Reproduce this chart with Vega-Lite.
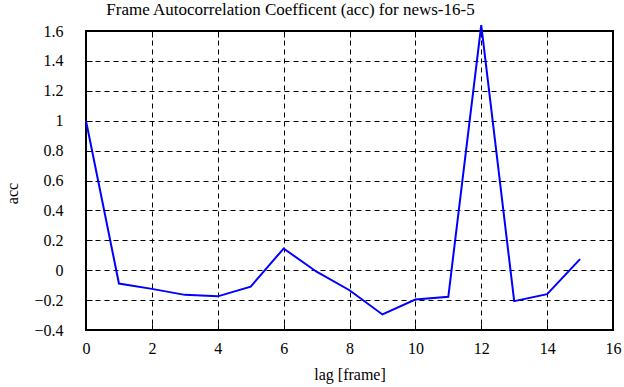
{
  "$schema": "https://vega.github.io/schema/vega-lite/v6.json",
  "width": 527,
  "height": 299,
  "autosize": {"type": "none"},
  "padding": {"left": 86, "top": 31, "right": 11, "bottom": 57},
  "background": "white",
  "title": {
    "text": "Frame Autocorrelation Coefficent (acc) for news-16-5",
    "font": "Liberation Serif",
    "fontSize": 17,
    "fontWeight": "normal",
    "color": "black",
    "anchor": "middle",
    "frame": "group",
    "dx": -59,
    "offset": 2
  },
  "config": {
    "view": {"stroke": "black", "strokeWidth": 2},
    "axis": {
      "labelFont": "Liberation Serif",
      "labelFontSize": 16,
      "labelColor": "black",
      "titleFont": "Liberation Serif",
      "titleFontSize": 16,
      "titleFontWeight": "normal",
      "titleColor": "black",
      "domain": false,
      "tickColor": "black",
      "tickSize": -6,
      "tickWidth": 1,
      "gridColor": "black",
      "gridDash": [5, 4],
      "gridOpacity": 1,
      "gridWidth": 1
    }
  },
  "data": {
    "values": [
      {"lag": 0, "acc": 1.0},
      {"lag": 1, "acc": -0.089},
      {"lag": 2, "acc": -0.125},
      {"lag": 3, "acc": -0.165},
      {"lag": 4, "acc": -0.175},
      {"lag": 5, "acc": -0.11},
      {"lag": 6, "acc": 0.145},
      {"lag": 7, "acc": -0.01},
      {"lag": 8, "acc": -0.134},
      {"lag": 9, "acc": -0.296},
      {"lag": 10, "acc": -0.196},
      {"lag": 11, "acc": -0.178},
      {"lag": 12, "acc": 1.64},
      {"lag": 13, "acc": -0.207},
      {"lag": 14, "acc": -0.16},
      {"lag": 15, "acc": 0.074}
    ]
  },
  "layer": [
    {
      "mark": {"type": "line", "color": "#0000ff", "strokeWidth": 2, "clip": false},
      "encoding": {
        "x": {
          "field": "lag", "type": "quantitative",
          "scale": {"domain": [0, 16], "nice": false, "zero": false},
          "axis": {"title": "lag [frame]", "values": [0,2,4,6,8,10,12,14,16], "labelPadding": 16, "titlePadding": 10, "labelFlush": false}
        },
        "y": {
          "field": "acc", "type": "quantitative",
          "scale": {"domain": [-0.4, 1.6], "nice": false, "zero": false},
          "axis": {"title": "acc", "values": [-0.4,-0.2,0,0.2,0.4,0.6,0.8,1,1.2,1.4,1.6], "labelPadding": 29, "titleAngle": -90, "titleX": -74, "titleY": 162, "titleBaseline": "middle", "titleAlign": "center", "labelFlush": false, "format": "~g"}
        }
      }
    },
    {
      "mark": {"type": "point", "opacity": 0},
      "encoding": {
        "x": {
          "field": "lag", "type": "quantitative",
          "axis": {"orient": "top", "title": null, "labels": false, "grid": false, "values": [0,2,4,6,8,10,12,14,16]}
        },
        "y": {
          "field": "acc", "type": "quantitative",
          "axis": {"orient": "right", "title": null, "labels": false, "grid": false, "values": [-0.4,-0.2,0,0.2,0.4,0.6,0.8,1,1.2,1.4,1.6]}
        }
      }
    }
  ],
  "resolve": {"axis": {"x": "independent", "y": "independent"}}
}
